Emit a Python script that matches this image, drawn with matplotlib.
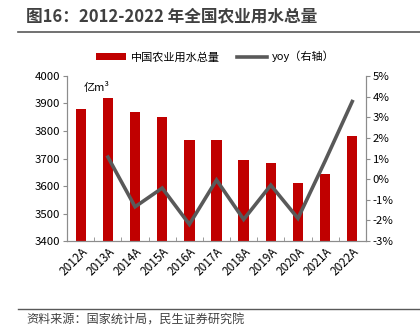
import matplotlib
matplotlib.use("Agg")
import matplotlib.pyplot as plt
from matplotlib.lines import Line2D
from matplotlib.patches import Patch
from matplotlib.ticker import FuncFormatter, MultipleLocator

plt.rcParams["font.family"] = ["Noto Sans CJK SC", "DejaVu Sans"]

years = ["2012A", "2013A", "2014A", "2015A", "2016A", "2017A",
         "2018A", "2019A", "2020A", "2021A", "2022A"]
water_use = [3880.0, 3921.5, 3869.0, 3852.2, 3768.0, 3766.4,
             3693.1, 3682.3, 3612.4, 3644.3, 3781.3]
yoy = [None, 1.07, -1.34, -0.43, -2.19, -0.04,
       -1.95, -0.29, -1.90, 0.88, 3.76]

BAR_COLOR = "#C00000"
LINE_COLOR = "#595959"
AXIS_COLOR = "#8c8c8c"

fig = plt.figure(figsize=(4.2, 3.33), dpi=100)
ax = fig.add_axes([0.16, 0.276, 0.711, 0.496])
ax2 = ax.twinx()

x = list(range(len(years)))
ax.bar(x, water_use, width=0.38, color=BAR_COLOR, zorder=2)
ax.set_ylim(3400, 4000)
ax.yaxis.set_major_locator(MultipleLocator(100))
ax.set_xlim(-0.5, len(years) - 0.5)
ax.set_xticks(x)
ax.set_xticklabels(years, rotation=45, ha="right", rotation_mode="anchor",
                   fontsize=8.5)
ax.set_xticks([i + 0.5 for i in x[:-1]], minor=True)
ax.tick_params(axis="x", which="major", length=0, pad=3)
ax.tick_params(axis="x", which="minor", length=3, direction="in",
               color=AXIS_COLOR)
ax.tick_params(axis="y", labelsize=8.2, length=3, color=AXIS_COLOR, pad=2)

yx = [i for i, v in zip(x, yoy) if v is not None]
yv = [v for v in yoy if v is not None]
ax2.plot(yx, yv, color=LINE_COLOR, linewidth=2.6, zorder=3,
         solid_joinstyle="miter")
ax2.set_ylim(-3, 5)
ax2.yaxis.set_major_locator(MultipleLocator(1))
ax2.yaxis.set_major_formatter(FuncFormatter(lambda v, _: f"{v:.0f}%"))
ax2.tick_params(axis="y", labelsize=8.2, length=3, color=AXIS_COLOR, pad=2)

for a in (ax, ax2):
    a.spines["top"].set_visible(False)
    for s in ("left", "right", "bottom"):
        a.spines[s].set_color(AXIS_COLOR)
        a.spines[s].set_linewidth(0.8)

ax.text(0.055, 0.965, "亿m³", transform=ax.transAxes, fontsize=8,
        ha="left", va="top")

handles = [Patch(facecolor=BAR_COLOR), Line2D([], [], color=LINE_COLOR, lw=2.6)]
fig.legend(handles, ["中国农业用水总量", "yoy（右轴）"], loc="center",
           bbox_to_anchor=(0.513, 0.83), ncol=2, frameon=False, fontsize=8,
           handlelength=2.7, handleheight=0.5, columnspacing=1.6,
           handletextpad=0.4)

fig.text(0.062, 0.952, "图16：2012-2022 年全国农业用水总量", fontsize=12,
         fontweight="bold", color="#404040", ha="left", va="center")
fig.add_artist(Line2D([0.043, 1.0], [0.905, 0.905], color="#595959", lw=1.2))
fig.add_artist(Line2D([0.043, 1.0], [0.072, 0.072], color="#595959", lw=1.0))
fig.text(0.062, 0.038, "资料来源：国家统计局，民生证券研究院", fontsize=8.7,
         color="#404040", ha="left", va="center")

fig.savefig("out.png", dpi=100)
